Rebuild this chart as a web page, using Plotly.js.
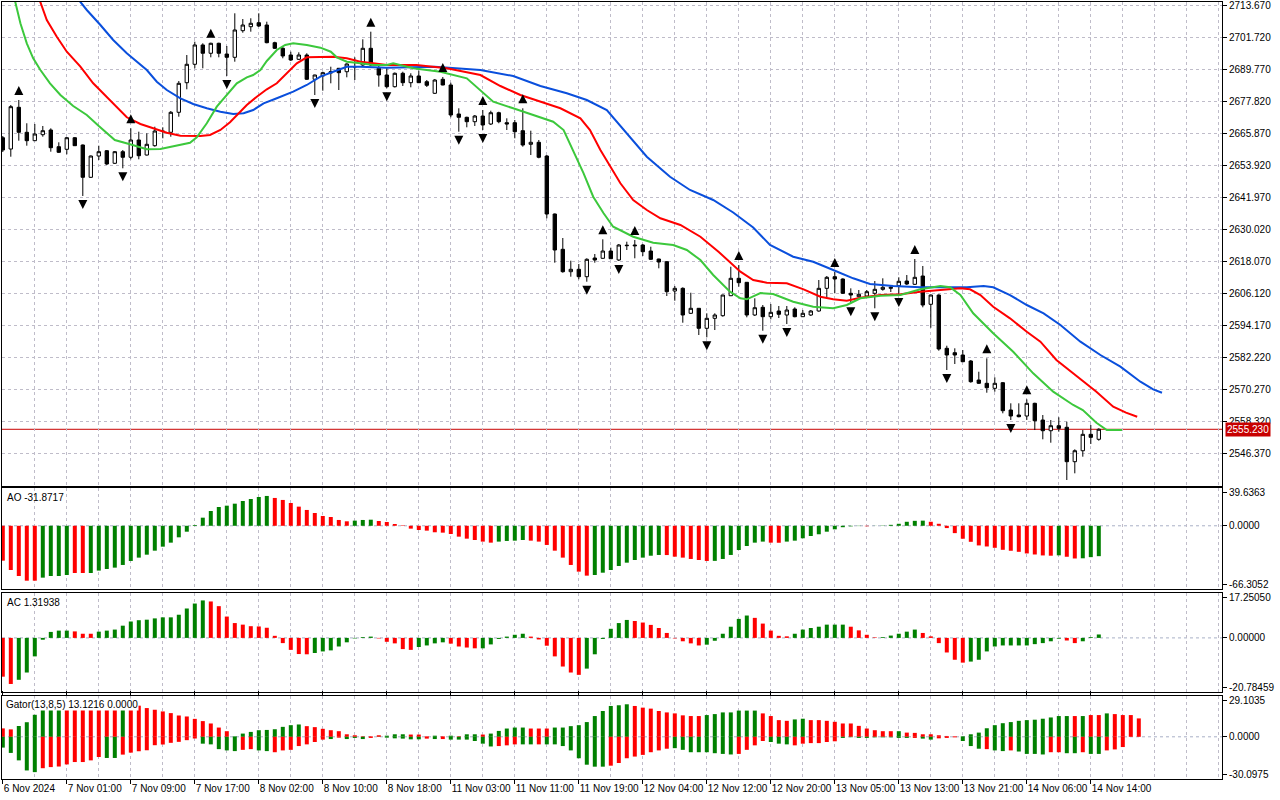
<!DOCTYPE html>
<html><head><meta charset="utf-8">
<script src="https://cdn.plot.ly/plotly-3.0.1.min.js"></script>
<style>html,body{margin:0;padding:0;background:#fff;}#chart{width:1280px;height:800px;}</style>
</head><body><div id="chart"></div>
<script>
// ---------- DATA ----------
const tickBars = [0,8,16,24,32,40,48,56,64,72,80,88,96,104,112,120,128,136];
const tickLabels = ['6 Nov 2024','7 Nov 01:00','7 Nov 09:00','7 Nov 17:00','8 Nov 02:00','8 Nov 10:00','8 Nov 18:00','11 Nov 03:00','11 Nov 11:00','11 Nov 19:00','12 Nov 04:00','12 Nov 12:00','12 Nov 20:00','13 Nov 05:00','13 Nov 13:00','13 Nov 21:00','14 Nov 06:00','14 Nov 14:00'];
const priceTicks = [2713.67,2701.72,2689.77,2677.82,2665.87,2653.92,2641.97,2630.02,2618.07,2606.12,2594.17,2582.22,2570.27,2558.32,2546.37];

const open = [2664.11,2659.89,2675.47,2666.13,2663.00,2665.24,2666.99,2660.76,2659.78,2664.11,
2661.39,2649.33,2657.28,2659.26,2654.56,2658.89,2656.80,2663.26,2657.65,2661.13,
2666.62,2666.13,2673.60,2684.65,2691.53,2698.74,2695.64,2699.37,2695.37,2694.14,
2704.08,2705.57,2707.06,2706.20,2699.59,2697.50,2695.00,2693.39,2695.00,2685.93,
2687.16,2688.28,2690.03,2688.76,2690.71,2691.27,2697.50,2690.03,2687.53,2683.16,
2688.17,2684.66,2687.16,2685.03,2680.70,2685.93,2683.80,2672.97,2671.73,2670.09,
2672.22,2669.23,2673.45,2669.72,2669.72,2666.73,2661.65,2662.40,2657.28,2635.62,
2622.44,2614.08,2614.97,2612.21,2619.19,2619.08,2621.81,2618.45,2623.78,2624.05,
2624.05,2621.81,2618.82,2617.81,2606.87,2607.87,2598.54,2600.41,2592.94,2596.67,
2597.65,2605.11,2611.61,2610.12,2597.91,2600.78,2597.28,2599.40,2597.91,2600.15,
2597.28,2597.91,2599.40,2607.87,2612.21,2611.35,2606.01,2604.74,2605.00,2606.01,
2607.50,2607.87,2608.85,2610.60,2609.37,2612.47,2601.90,2605.37,2585.47,2583.83,
2582.97,2580.73,2573.63,2572.40,2570.53,2572.63,2562.43,2560.56,2560.19,2564.93,
2558.69,2554.70,2556.57,2555.98,2543.13,2547.23,2553.35,2551.49];
const high = [2664.75,2676.33,2678.20,2669.50,2669.24,2668.49,2667.62,2662.40,2664.38,2664.38,
2661.58,2657.46,2661.13,2659.52,2659.15,2659.52,2667.62,2666.36,2665.76,2668.23,
2668.00,2674.09,2685.29,2694.99,2699.97,2699.37,2699.59,2699.59,2698.36,2710.57,
2708.44,2708.71,2710.57,2707.44,2699.97,2698.10,2696.23,2696.01,2695.64,2687.64,
2688.76,2690.63,2690.15,2691.90,2694.14,2700.86,2703.70,2691.90,2690.03,2688.47,
2688.76,2688.17,2689.14,2685.66,2686.04,2686.79,2684.66,2675.10,2671.96,2672.59,
2674.46,2674.20,2673.83,2671.36,2670.73,2675.10,2666.73,2663.26,2657.65,2635.81,
2626.66,2618.19,2616.95,2619.08,2620.69,2626.17,2623.04,2624.42,2625.28,2625.91,
2624.42,2623.41,2618.93,2618.07,2608.74,2608.25,2606.23,2600.52,2598.54,2598.54,
2605.48,2615.94,2616.58,2610.23,2604.14,2601.64,2602.01,2601.27,2601.27,2600.78,
2599.77,2599.77,2610.98,2612.47,2613.96,2611.61,2607.87,2607.24,2607.24,2610.60,
2611.61,2609.11,2611.98,2612.84,2618.82,2616.21,2605.56,2605.63,2586.44,2585.47,
2584.84,2581.10,2576.73,2581.73,2574.63,2572.89,2564.93,2564.93,2566.42,2565.15,
2560.56,2558.69,2559.71,2558.07,2547.75,2554.96,2556.83,2555.61];
const low = [2658.77,2657.02,2663.00,2661.13,2662.89,2664.49,2658.89,2658.40,2657.91,2661.02,
2642.35,2649.07,2655.79,2653.92,2654.30,2652.69,2656.05,2656.05,2657.46,2660.76,
2663.89,2664.49,2671.96,2682.19,2690.03,2690.03,2694.14,2694.14,2687.16,2692.50,
2703.33,2703.70,2705.46,2699.37,2697.24,2693.77,2692.76,2693.13,2685.66,2680.06,
2681.67,2684.43,2681.93,2686.67,2685.66,2690.89,2690.89,2683.16,2682.57,2682.86,
2683.42,2682.94,2684.54,2683.05,2680.44,2683.68,2671.73,2666.36,2668.00,2668.49,
2666.99,2668.86,2669.50,2666.99,2663.89,2660.76,2657.65,2656.42,2634.02,2617.44,
2613.70,2612.21,2611.24,2610.34,2617.44,2618.93,2618.82,2618.07,2622.18,2619.08,
2619.94,2618.45,2615.34,2605.00,2603.25,2595.03,2598.28,2590.44,2589.58,2592.30,
2597.28,2605.00,2608.48,2597.05,2597.54,2592.04,2596.30,2596.79,2594.54,2597.05,
2597.16,2597.54,2599.14,2604.51,2606.01,2605.75,2602.27,2604.63,2604.74,2600.41,
2606.98,2606.49,2605.75,2609.11,2609.11,2600.78,2593.16,2584.58,2577.37,2579.61,
2580.35,2572.63,2572.14,2568.89,2569.27,2561.20,2558.69,2559.71,2558.69,2554.96,
2551.49,2550.22,2554.33,2536.29,2538.79,2545.00,2549.73,2550.97];
const close = [2659.52,2675.70,2666.13,2663.00,2665.50,2666.73,2660.38,2658.66,2664.11,2661.13,
2649.33,2657.28,2658.89,2654.30,2658.89,2656.80,2663.26,2657.39,2661.65,2666.62,
2666.43,2673.60,2684.43,2691.53,2698.74,2695.64,2699.37,2695.64,2694.14,2704.34,
2706.20,2706.84,2705.83,2699.59,2697.50,2694.63,2693.13,2695.00,2685.93,2687.53,
2688.39,2688.76,2688.39,2691.64,2690.56,2697.50,2691.27,2687.53,2683.16,2688.17,
2684.66,2687.16,2684.66,2683.68,2685.66,2683.80,2672.59,2671.73,2670.09,2672.22,
2668.86,2673.45,2670.09,2669.23,2666.36,2661.39,2662.40,2656.80,2635.62,2622.18,
2614.08,2614.97,2612.21,2618.71,2618.45,2621.81,2618.93,2624.05,2623.93,2623.78,
2621.55,2618.71,2617.70,2606.61,2607.87,2597.91,2600.41,2592.94,2596.67,2597.91,
2605.37,2611.61,2609.97,2597.91,2600.63,2597.28,2598.91,2598.17,2599.77,2597.28,
2598.54,2599.40,2607.87,2611.98,2611.35,2606.01,2605.37,2605.63,2606.61,2607.50,
2608.25,2608.25,2610.49,2609.48,2611.98,2601.64,2605.37,2585.21,2582.97,2582.97,
2580.46,2573.00,2572.40,2570.75,2572.40,2562.17,2560.19,2559.93,2564.93,2558.43,
2554.70,2556.57,2555.58,2543.13,2547.23,2553.35,2552.23,2555.23];
const lastPrice = 2555.23;

const fractalUp = [2,16,26,29,32,46,55,60,65,75,79,92,104,114,123,128];
const fractalDown = [10,15,28,39,48,57,60,73,77,88,95,98,106,109,112,118,126,133];

// Alligator (x = bar position)
const jawX = [0,9.5,10.5,12.2,13.8,15.5,16.75,18,19.25,20.5,22.2,23.8,25.5,27.2,28.8,30.1,31.3,32.6,34.25,36.3,38,39.7,41.3,43,44.7,46.3,48,54,59.7,63.8,67.2,70.5,73,75.5,78,80.5,83.4,85.9,88.8,91.3,93.8,95.9,98.8,101.3,103.8,106.3,108.4,111.3,114.7,118,120.5,122.6,123.8,125.9,128,130.1,132.2,134.7,137.2,139.7,142.2,143.8,144.9];
const jawY = [2751.02,2715.54,2711.81,2706.20,2700.60,2695.64,2692.50,2689.40,2685.03,2681.93,2678.83,2676.70,2675.10,2673.83,2672.97,2673.23,2674.46,2676.96,2678.83,2681.30,2683.80,2686.90,2688.76,2690.63,2690.63,2690.41,2690.26,2690.63,2689.40,2687.16,2683.42,2680.70,2678.20,2674.46,2665.76,2657.02,2649.55,2644.59,2640.85,2636.18,2630.58,2624.05,2619.68,2617.81,2614.71,2611.61,2609.48,2608.74,2608.25,2608.25,2608.25,2608.74,2608.25,2605.37,2601.64,2598.54,2594.17,2587.94,2582.97,2578.61,2573.00,2570.16,2568.89];
const teethX = [0,4.6,5.5,6.75,8,9.7,11.3,13,14.25,15.5,17.2,18.8,20.5,22.2,24.7,25.9,27.2,28.4,29.25,30.5,31.75,33,34.25,35.5,36.75,38,39.7,41.3,43,44.7,46.3,48,51.7,55.5,59.7,62.2,64.7,67.2,69.7,72.2,73.4,74.7,75.9,77.2,78.8,80.5,82.2,84.7,87.2,89.5,92.2,93.8,95.5,98,100.1,102.2,103.8,105.5,107.2,109.7,112.2,114.7,117.2,119.7,120.9,122.2,123.8,125.9,128,129.7,131.7,133.8,136.7,138.8,140.4,141.8];
const teethY = [2739.81,2715.54,2708.07,2701.83,2696.23,2690.63,2684.43,2679.43,2675.70,2671.74,2669.23,2667.62,2665.98,2664.86,2664.75,2665.13,2666.99,2669.87,2672.59,2676.33,2679.43,2682.19,2684.43,2688.17,2691.90,2694.14,2694.37,2694.37,2693.77,2692.50,2691.90,2691.27,2691.27,2690.03,2687.53,2683.42,2680.06,2677.56,2675.10,2671.36,2666.99,2659.52,2653.29,2647.09,2640.85,2637.12,2634.02,2631.52,2627.15,2621.43,2614.08,2610.98,2609.97,2609.75,2607.50,2604.74,2603.77,2603.25,2604.37,2605.37,2605.63,2606.61,2607.24,2607.87,2607.50,2605.37,2601.01,2596.67,2591.67,2587.94,2581.10,2576.13,2569.27,2563.67,2561.43,2559.93];
const lipsX = [0,1.5,2.2,3,3.8,4.7,5.9,7.2,8.8,10.5,12,13,14,15.9,17.2,18,19.7,21.75,23.4,24.25,25.5,26.75,28,29.25,30.5,31.3,32.2,33,34.25,35.3,36.3,38,39.7,41,41.75,43,44.7,46.3,48,48.8,51.3,54.7,58,59.7,61.3,63.8,66.3,68.8,70.1,71.3,72.6,73.8,75.1,76.3,78.8,81.3,83.8,85.5,87.2,88.8,90.9,92.2,93,94.7,96.3,98.8,101.3,103.8,105.5,107.2,109.7,112.2,114.7,117.2,118.4,119.7,121.3,123.8,126.3,128.8,131.3,133.8,135,136.7,138,139.9];
const lipsY = [2726.74,2715.54,2706.84,2699.37,2693.77,2689.40,2684.43,2680.06,2675.95,2672.59,2668.49,2665.76,2663.26,2661.65,2660.53,2659.78,2659.90,2661.13,2662.25,2664.27,2669.50,2675.70,2680.06,2684.43,2686.67,2687.53,2689.40,2692.76,2696.87,2698.74,2699.37,2698.74,2697.73,2696.23,2694.14,2692.50,2691.90,2691.27,2691.27,2691.90,2690.03,2688.76,2686.30,2681.93,2677.56,2675.10,2672.59,2670.09,2666.99,2659.52,2650.82,2642.08,2635.89,2630.88,2627.15,2624.91,2624.05,2622.18,2618.45,2612.84,2606.61,2604.14,2603.77,2606.12,2605.75,2602.87,2601.01,2600.41,2601.64,2604.14,2605.11,2605.37,2607.50,2608.74,2608.25,2605.37,2598.54,2591.07,2584.20,2576.13,2569.27,2564.30,2562.43,2557.69,2554.96,2554.96];

// Awesome Oscillator
const aoVals = [-36.6,-46.4,-52.7,-57.6,-57.6,-54.4,-52.7,-52.7,-51.6,-49.5,
-49.5,-49.5,-47.0,-45.3,-43.9,-41.1,-36.9,-33.4,-30.3,-26.1,
-21.9,-17.7,-12.1,-6.2,0.8,8.5,15.5,19.7,21.1,23.2,
26.0,28.1,30.2,31.3,29.2,27.1,23.9,20.1,16.6,13.4,
10.3,9.2,6.1,4.7,5.4,6.1,6.4,5.0,4.0,1.9,
0.5,-3.0,-4.4,-5.1,-6.8,-7.2,-8.6,-11.4,-13.5,-14.9,
-16.6,-17.7,-16.6,-15.9,-15.6,-14.9,-15.6,-16.6,-20.1,-26.1,
-33.4,-41.1,-48.1,-52.3,-51.6,-49.2,-46.4,-42.2,-38.7,-35.9,
-33.4,-31.4,-30.6,-30.7,-32.4,-33.4,-34.8,-35.9,-36.9,-36.8,
-34.8,-30.6,-25.4,-21.2,-17.7,-16.6,-17.7,-17.8,-16.6,-15.6,
-13.1,-10.7,-8.9,-6.2,-3.7,-1.5,-0.6,-0.3,-0.5,0.1,
0.3,1.0,2.1,4.2,5.2,5.4,4.2,2.1,-2.4,-7.7,
-13.6,-16.8,-20.6,-21.7,-23.1,-25.2,-26.2,-27.3,-29.0,-30.1,
-31.1,-31.4,-31.0,-32.5,-34.3,-34.1,-32.9,-31.8717];
const aoColors = "RRRRR GGGG RR GGGGGGGGGG GGGGGGGGGG GGG RRRRRRRRRR GGG RRRRRRRRRR RRRRR GGGG RRRRRRRR GGGGGGGGG RRRRRR GGGGGGG RR GGGGGGGGGG R GGGGGGG RRRRRRRRRR RRRRRR G RR GGG";

// Accelerator Oscillator
const acVals = [-14.9,-17.7,-16.1,-13.3,-7.1,-0.7,2.3,2.8,2.8,2.5,
1.6,1.6,2.4,2.8,3.2,4.7,6.3,6.8,7.0,7.5,
7.9,7.9,8.9,11.3,13.2,14.4,14.0,12.2,8.2,5.7,
5.1,4.5,4.4,3.9,0.8,-2.0,-4.6,-6.2,-6.3,-5.8,
-5.2,-4.8,-3.3,-1.7,-0.2,0.3,0.5,-0.2,-1.5,-2.1,
-4.3,-4.6,-3.5,-2.9,-2.1,-1.7,-2.2,-3.3,-3.7,-4.0,
-4.0,-2.5,-0.4,0.5,1.2,1.6,0.5,-0.6,-3.0,-7.1,
-11.0,-13.3,-14.2,-11.8,-6.3,-0.4,3.5,5.7,6.9,6.5,
5.9,5.0,3.8,1.9,-0.2,-1.3,-2.1,-2.9,-2.6,-1.1,
1.6,4.3,7.3,8.6,7.7,5.5,2.8,0.8,0.6,1.6,
3.2,3.8,4.3,5.1,5.1,5.1,4.3,2.9,1.2,0.2,
0.3,0.9,1.6,2.4,3.2,1.9,0.6,-2.0,-5.6,-8.4,
-9.5,-9.1,-8.4,-5.2,-3.3,-2.9,-2.9,-2.9,-2.9,-2.4,
-2.0,-1.3,-0.3,-1.0,-2.0,-1.3,0.3,1.31938];
const acColors = "RR GGGGGGG RRR GGGGGGGGGGGGGG RRRRRRRRRRRRR GGGGGGGG RRRRR GGGG RRRR GGGGGG RRRRRRR GGGGGG RRRRRRRRR GGGGGG RRRRR GGGGGGG RRRR GGGGG RRRRRR GGGGGGGGGGGG RR GGG";

// Gator Oscillator (13,8,5)
const gatorUp = [6.0,5.3,7.7,10.4,15.7,21.0,24.0,26.0,25.5,25.0,
24.5,24.0,23.6,23.3,23.0,23.4,22.9,22.2,20.5,19.3,
18.1,16.9,15.2,14.5,12.8,11.2,9.5,6.6,4.0,0.4,
2.3,3.5,4.7,4.9,5.4,7.1,8.3,8.8,7.6,6.9,
5.7,4.7,4.0,1.8,1.1,0.4,0.4,1.1,0.8,1.8,
1.8,1.6,1.6,0.4,0.8,0.4,0.8,0.4,1.8,1.8,
1.6,2.3,4.2,5.9,6.6,6.6,5.9,5.9,5.9,6.6,
6.6,7.6,8.3,10.5,14.8,18.4,22.0,22.5,23.2,22.0,
20.8,20.1,18.4,17.4,16.7,15.3,14.8,14.8,15.5,16.2,
17.4,17.4,18.7,18.7,18.7,16.7,14.8,11.9,11.4,12.4,
12.9,11.9,11.9,11.4,10.7,9.5,9.5,7.8,5.9,4.7,
4.0,4.0,4.0,3.0,2.8,1.8,1.8,1.1,0.6,0.4,
0.4,1.8,3.0,6.1,8.3,9.7,10.5,11.4,11.9,12.2,
12.9,13.8,14.8,14.8,14.8,14.8,15.5,15.5,16.7,16.2,
15.5,15.5,13.1216];
const gatorUpColors = "RR GGGGGG RRRRRRR G RRRRRRRRRRRRR GGGGGGGGG RRRRRRRRRR GGG RRR G R G R GG R GGGGG RRR GGGGGGGGGG RRRRRRRRR GGGGGGG RRRR GG RRRRRRRRRRR G RRRRRRR GGGGGGGGGGGGGG R G RR G RRRR";
const gatorDown = [-7.7,-11.5,-16.8,-24.0,-25.2,-22.4,-21.6,-21.2,-19.7,-18.0,
-18.0,-16.8,-14.4,-15.1,-15.1,-12.7,-11.3,-10.3,-9.6,-6.0,
-5.5,-4.3,-3.6,-2.4,-1.2,-4.9,-5.4,-8.8,-9.7,-10.2,
-9.3,-8.8,-9.7,-10.2,-11.0,-9.7,-9.3,-6.6,-5.4,-3.7,
-2.0,-1.6,-0.6,-1.6,-0.8,-1.6,-0.8,-0.1,-0.6,-1.1,
-1.3,-1.8,-1.8,-1.3,-1.6,-1.6,-2.0,-2.0,-2.0,-3.0,
-4.9,-6.9,-6.6,-6.1,-5.4,-5.4,-5.4,-5.4,-5.4,-5.4,
-6.6,-9.7,-15.3,-19.9,-21.3,-21.3,-20.6,-18.7,-15.3,-14.1,
-12.9,-11.0,-9.7,-8.5,-8.1,-9.3,-11.0,-11.0,-11.0,-11.7,
-12.2,-12.6,-12.2,-9.3,-6.1,-3.0,-3.7,-4.9,-5.4,-6.1,
-4.9,-4.5,-4.5,-3.7,-3.2,-0.8,-0.3,-0.8,-0.8,-0.4,
-0.4,-0.4,-0.8,-0.8,-0.8,-1.3,-2.0,-1.1,-0.8,-0.4,
-3.0,-6.6,-8.5,-8.8,-9.7,-10.2,-9.7,-10.5,-12.2,-12.2,
-12.6,-11.0,-11.0,-11.7,-11.7,-11.0,-12.2,-12.2,-9.7,-9.0,
-7.3];
const gatorDownColors = "GGGGG RRRRRRRR GG RRRRRRRRRR GGGGG RR GG RRRRRRR G R GGG R GGGGGG R G R GGGGGG RRR GG R GGGGGGGG RRRRRRRR GGGGGGGG RRRR GGG RRRRRR GGGGGGGGG R GG RRR GGG R GG R GGGG RR GG R GG RRR";

const aoLabel = 'AO -31.8717';
const acLabel = 'AC 1.31938';
const gatorLabel = 'Gator(13,8,5) 13.1216 0.0000';

// ---------- STYLE / LAYOUT ----------
const GREEN = '#008000', RED = '#ff0000';
const GRID = '#bfbcc9', ZERO = '#a9b0c6';
const FONT = 'Liberation Sans, Arial, sans-serif';
const Y_MAIN = [2534.24, 2714.79], MAIN_PX = 483.5;
const pxPrice = (Y_MAIN[1] - Y_MAIN[0]) / MAIN_PX;
const cols = s => s.replace(/ /g,'').split('').map(c => c === 'G' ? GREEN : RED);
const idx = a => a.map((_, i) => i);
const bars = idx(open);

const traces = [
  {type:'scatter', mode:'lines', x:jawX, y:jawY, line:{color:'#0a4fdc', width:2}, xaxis:'x', yaxis:'y', hoverinfo:'skip'},
  {type:'scatter', mode:'lines', x:teethX, y:teethY, line:{color:'#ff0000', width:2}, xaxis:'x', yaxis:'y', hoverinfo:'skip'},
  {type:'scatter', mode:'lines', x:lipsX, y:lipsY, line:{color:'#3cc83c', width:2}, xaxis:'x', yaxis:'y', hoverinfo:'skip'},
  {type:'candlestick', x:bars, open:open, high:high, low:low, close:close, xaxis:'x', yaxis:'y',
   increasing:{line:{color:'#000', width:1}, fillcolor:'#ffffff'},
   decreasing:{line:{color:'#000', width:1}, fillcolor:'#000000'},
   whiskerwidth:0, hoverinfo:'skip'},
  {type:'scatter', mode:'markers', x:fractalUp, y:fractalUp.map(i => high[i] + 14*pxPrice), xaxis:'x', yaxis:'y',
   marker:{symbol:'arrow-up', size:9, color:'#000', line:{width:0}}, cliponaxis:false, hoverinfo:'skip'},
  {type:'scatter', mode:'markers', x:fractalDown, y:fractalDown.map(i => low[i] - 13*pxPrice), xaxis:'x', yaxis:'y',
   marker:{symbol:'arrow-down', size:9, color:'#000', line:{width:0}}, cliponaxis:true, hoverinfo:'skip'},
  {type:'bar', x:idx(aoVals), y:aoVals, width:0.5, marker:{color:cols(aoColors), line:{width:0}}, xaxis:'x', yaxis:'y2', hoverinfo:'skip'},
  {type:'bar', x:idx(acVals), y:acVals, width:0.5, marker:{color:cols(acColors), line:{width:0}}, xaxis:'x', yaxis:'y3', hoverinfo:'skip'},
  {type:'bar', x:idx(gatorUp), y:gatorUp, width:0.5, marker:{color:cols(gatorUpColors), line:{width:0}}, xaxis:'x', yaxis:'y4', hoverinfo:'skip'},
  {type:'bar', x:idx(gatorDown), y:gatorDown, width:0.5, marker:{color:cols(gatorDownColors), line:{width:0}}, xaxis:'x', yaxis:'y4', hoverinfo:'skip'}
];

const yBase = {side:'right', ticks:'outside', ticklen:4, tickcolor:'#000', showline:true, mirror:true,
  linecolor:'#000', linewidth:1, zeroline:false, fixedrange:true, ticklabeloverflow:'allow',
  tickfont:{family:FONT, size:10, color:'#000'}, anchor:'x'};

const layout = {
  width:1280, height:800, margin:{l:2, r:58, t:2, b:21},
  paper_bgcolor:'#fff', plot_bgcolor:'#fff', showlegend:false,
  barmode:'overlay', boxgap:0.4,
  font:{family:FONT, size:10, color:'#000'},
  xaxis:{anchor:'y4', range:[-0.1, 152.4], tickmode:'array', tickvals:tickBars, ticktext:tickLabels,
    tickangle:0, ticklabelposition:'outside right', ticklabeloverflow:'allow',
    ticks:'outside', ticklen:4, tickcolor:'#000',
    tickfont:{family:FONT, size:10, color:'#000'},
    showgrid:true, gridcolor:GRID, gridwidth:1, griddash:'3px,3px',
    minor:{tickmode:'linear', tick0:0, dtick:4, showgrid:true, gridcolor:GRID, gridwidth:1, griddash:'3px,3px', ticks:''},
    showline:true, mirror:'all', linecolor:'#000', linewidth:1, zeroline:false,
    rangeslider:{visible:false}, fixedrange:true},
  yaxis:Object.assign({}, yBase, {domain:[0.37773, 1], range:Y_MAIN, tickmode:'array', tickvals:priceTicks,
    ticktext:priceTicks.map(v => v.toFixed(3)), showgrid:true, gridcolor:GRID, gridwidth:1, griddash:'3px,3px'}),
  yaxis2:Object.assign({}, yBase, {domain:[0.24453, 0.37452], range:[-66.3052, 39.6363], tickmode:'array',
    tickvals:[34.71, 0, -61.38], ticktext:['39.6363','0.0000','-66.3052'], showgrid:false}),
  yaxis3:Object.assign({}, yBase, {domain:[0.11197, 0.23938], range:[-20.78459, 17.2505], tickmode:'array',
    tickvals:[15.44, 0, -18.98], ticktext:['17.25050','0.00000','-20.78459'], showgrid:false}),
  yaxis4:Object.assign({}, yBase, {domain:[0, 0.10682], range:[-30.0975, 29.1035], tickmode:'array',
    tickvals:[25.75, 0, -26.75], ticktext:['29.1035','0.0000','-30.0975'], showgrid:false}),
  shapes:[
    {type:'line', xref:'paper', x0:0, x1:1, yref:'y2', y0:0, y1:0, line:{color:ZERO, width:1, dash:'3px,3px'}, layer:'below'},
    {type:'line', xref:'paper', x0:0, x1:1, yref:'y3', y0:0, y1:0, line:{color:ZERO, width:1, dash:'3px,3px'}, layer:'below'},
    {type:'line', xref:'paper', x0:0, x1:1, yref:'y4', y0:0, y1:0, line:{color:ZERO, width:1, dash:'3px,3px'}, layer:'below'},
    {type:'line', xref:'paper', x0:0, x1:1, yref:'y', y0:lastPrice, y1:lastPrice, line:{color:'#c80000', width:1}, layer:'below'}
  ],
  annotations:[
    {xref:'paper', x:1, xanchor:'left', xshift:3, yref:'y', y:lastPrice, yanchor:'middle', text:lastPrice.toFixed(3),
     showarrow:false, bgcolor:'#c80000', borderpad:1, font:{family:FONT, size:10, color:'#ffffff'}},
    {xref:'paper', x:0, xanchor:'left', xshift:3, yref:'paper', y:0.37452, yanchor:'top', yshift:-2, text:aoLabel,
     showarrow:false, font:{family:FONT, size:10, color:'#000'}},
    {xref:'paper', x:0, xanchor:'left', xshift:3, yref:'paper', y:0.23938, yanchor:'top', yshift:-2, text:acLabel,
     showarrow:false, font:{family:FONT, size:10, color:'#000'}},
    {xref:'paper', x:0, xanchor:'left', xshift:3, yref:'paper', y:0.10682, yanchor:'top', yshift:-2, text:gatorLabel,
     showarrow:false, bgcolor:'#ffffff', borderpad:0, font:{family:FONT, size:10, color:'#000'}}
  ]
};

Plotly.newPlot('chart', traces, layout, {staticPlot:true, displayModeBar:false});
</script>
</body></html>
